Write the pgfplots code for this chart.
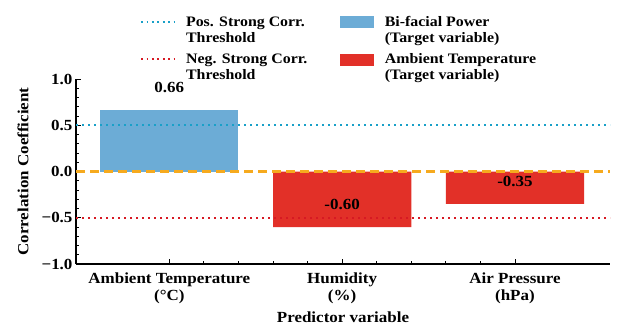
\documentclass[border=0pt]{standalone}
\usepackage{pgfplots}
\pgfplotsset{compat=1.18}
\usepackage{fontspec}
\setmainfont{Liberation Serif}[FakeStretch=1.1]
\definecolor{barblue}{RGB}{108,172,214}
\definecolor{barred}{RGB}{226,48,40}
\definecolor{poscyan}{RGB}{25,160,200}
\definecolor{negred}{RGB}{215,25,35}
\definecolor{zeroorange}{RGB}{246,170,30}
\begin{document}
\begin{tikzpicture}
\begin{axis}[
  scale only axis, width=534bp, height=185bp,
  xmin=-0.54, xmax=2.55, ymin=-1, ymax=1,
  axis x line*=bottom, axis y line*=left,
  axis line style={line width=1.4bp, -},
  xtick={0,1,2},
  xticklabels={{Ambient Temperature\\(°C)},{Humidity\\(\%)},{Air Pressure\\(hPa)}},
  minor x tick num=4,
  ytick={-1,-0.5,0,0.5,1},
  yticklabels={−1.0,−0.5,0.0,0.5,1.0},
  minor y tick num=4,
  tick align=inside,
  major tick length=5bp, minor tick length=3bp,
  tick style={black, line width=0.9bp},
  xticklabel style={align=center, yshift=-5bp, font=\fontsize{15.5}{17}\selectfont\bfseries},
  yticklabel style={font=\fontsize{15.5}{17}\selectfont\bfseries},
  xlabel={Predictor variable},
  ylabel={Correlation Coefficient},
  label style={font=\fontsize{15.5}{17}\selectfont\bfseries},
  xlabel style={at={(axis description cs:0.5,-0.3135)}, anchor=base},
  ylabel style={at={(axis description cs:-0.0993,0.5)}, anchor=center},
  legend style={at={(0.1144,1.369)}, anchor=north west, draw=none, fill=none,
    font=\fontsize{14.5}{16}\selectfont\bfseries, row sep=12.5bp,
    /tikz/every odd column/.append style={column sep=9bp},
    /tikz/every even column/.append style={column sep=31bp}},
  legend columns=2,
  legend cell align=left,
]
\addplot[ybar, bar width=0.8, bar shift=0pt, fill=barblue, draw=none, forget plot] coordinates {(0,0.66)};
\addplot[ybar, bar width=0.8, bar shift=0pt, fill=barred, draw=none, forget plot] coordinates {(1,-0.60) (2,-0.35)};
\addplot[poscyan, line width=1.8bp, dash pattern=on 1.8bp off 4.2bp, forget plot] coordinates {(-0.54,0.5) (2.55,0.5)};
\addplot[negred, line width=1.8bp, dash pattern=on 1.8bp off 4.2bp, forget plot] coordinates {(-0.54,-0.5) (2.55,-0.5)};
\addplot[zeroorange, line width=2.6bp, dash pattern=on 9bp off 5bp, forget plot] coordinates {(-0.54,0) (2.55,0)};
\addplot[draw=none, mark=none, nodes near coords, point meta=explicit symbolic,
  nodes near coords style={anchor=center, black, font=\fontsize{15.5}{17}\selectfont\bfseries}, forget plot]
  table[meta=lab, row sep=\\] {x y lab\\ 0 0.91 0.66\\ 1 -0.355 -0.60\\ 2 -0.105 -0.35\\};
\addlegendimage{legend image code/.code={\draw[poscyan, line width=1.8bp, dash pattern=on 1.8bp off 3.6bp] (0bp,3.6bp) -- (33bp,3.6bp);}}
\addlegendentry{\begin{tabular}{@{}l@{}}Pos. Strong Corr.\\Threshold\end{tabular}}
\addlegendimage{legend image code/.code={\fill[barblue] (0bp,-1.9bp) rectangle (33bp,9.1bp);}}
\addlegendentry{\begin{tabular}{@{}l@{}}Bi-facial Power\\(Target variable)\end{tabular}}
\addlegendimage{legend image code/.code={\draw[negred, line width=1.8bp, dash pattern=on 1.8bp off 3.6bp] (0bp,3.6bp) -- (33bp,3.6bp);}}
\addlegendentry{\begin{tabular}{@{}l@{}}Neg. Strong Corr.\\Threshold\end{tabular}}
\addlegendimage{legend image code/.code={\fill[barred] (0bp,-1.9bp) rectangle (33bp,9.1bp);}}
\addlegendentry{\begin{tabular}{@{}l@{}}Ambient Temperature\\(Target variable)\end{tabular}}
\end{axis}
\path[use as bounding box] (-76bp,-64bp) rectangle (542bp,264bp);
\end{tikzpicture}
\end{document}
